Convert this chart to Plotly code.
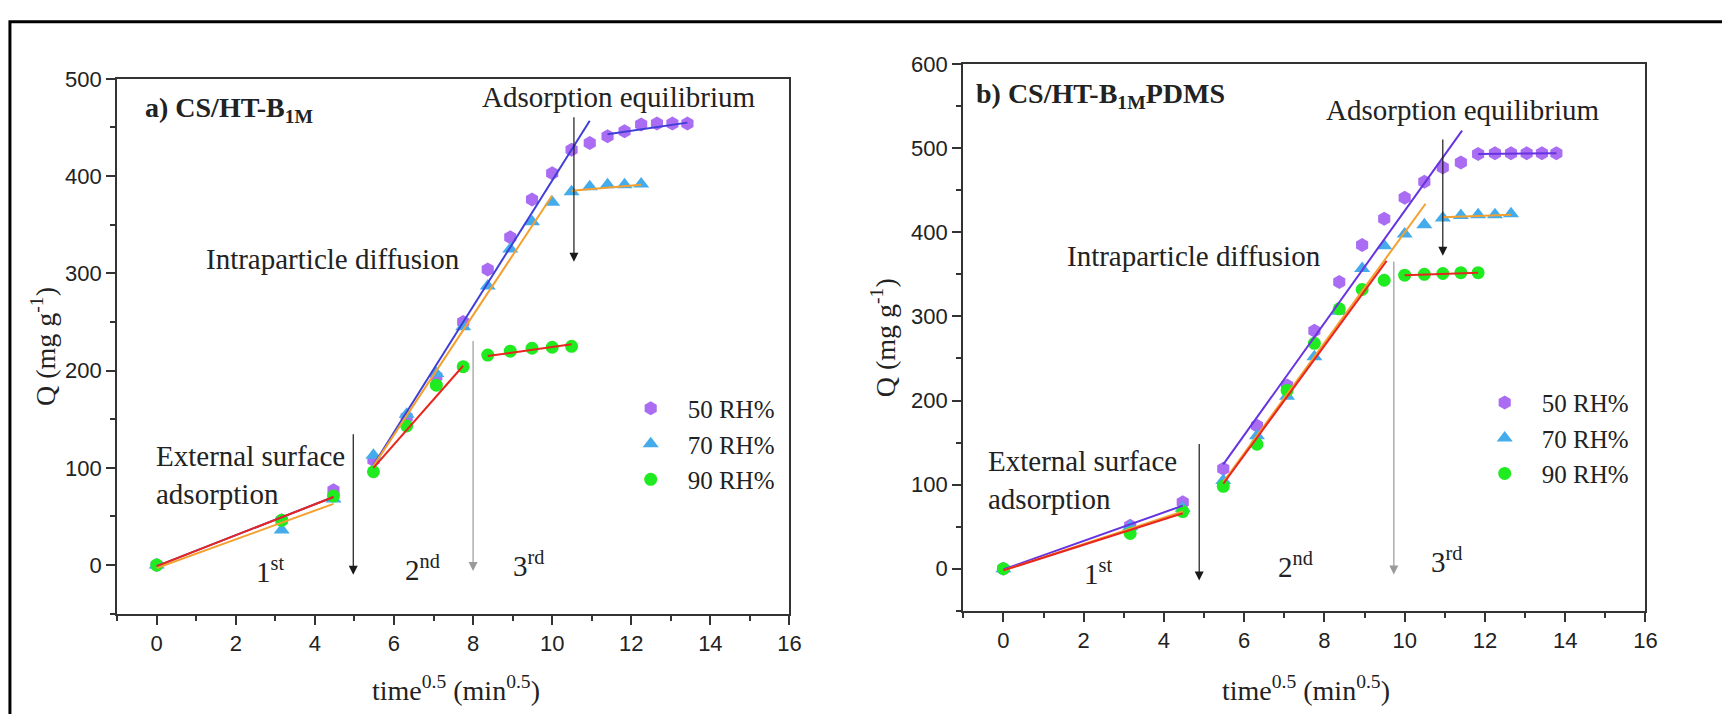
import plotly.graph_objects as go

# ---------------- data ----------------
# panel a) CS/HT-B1M
a_x = [0, 3.16, 4.47, 5.48, 6.32, 7.07, 7.75, 8.37, 8.94, 9.49, 10.0, 10.49,
       10.95, 11.40, 11.83, 12.25, 12.65, 13.04, 13.42]
a_q50 = [0, 46, 77, 108, 152, 194, 250, 304, 337, 376, 403, 427, 434, 441, 446, 453, 454, 454, 454]
a_q70 = [0, 36, 68, 113, 155, 197, 245, 287, 325, 353, 373, 384, 389, 391, 391, 392]
a_q90 = [0, 46, 71, 96, 143, 185, 204, 216, 220, 223, 224, 225]

a_fit50_x = [0, 4.47, None, 5.48, 10.95, None, 11.40, 13.42]
a_fit50_y = [-1, 70, None, 103, 457, None, 443, 455]
a_fit70_x = [0, 4.47, None, 5.48, 10.0, None, 10.49, 12.25]
a_fit70_y = [-3, 63, None, 102, 380, None, 385, 391]
a_fit90_x = [0, 4.47, None, 5.48, 7.75, None, 8.37, 10.49]
a_fit90_y = [-1, 70, None, 100, 205, None, 215, 227]

a_arrow_x = [4.97, 8.0, 10.55]
a_arrow_from = [136, 232, 462]
a_arrow_to = [-10, -6, 312]

# panel b) CS/HT-B1MPDMS
b_x = [0, 3.16, 4.47, 5.48, 6.32, 7.07, 7.75, 8.37, 8.94, 9.49, 10.0, 10.49,
       10.95, 11.40, 11.83, 12.25, 12.65, 13.04, 13.42, 13.78]
b_q50 = [0, 51, 79, 119, 170, 218, 283, 341, 385, 416, 441, 460, 477, 483, 493, 494, 494, 494, 494, 494]
b_q70 = [0, 50, 72, 105, 158, 205, 252, 306, 357, 384, 398, 409, 417, 420, 421, 421, 422]
b_q90 = [0, 42, 68, 98, 148, 212, 268, 309, 332, 343, 349, 350, 351, 352, 352]

b_fit50_x = [0, 4.47, None, 5.48, 11.43, None, 11.83, 13.78]
b_fit50_y = [-1, 75, None, 124, 521, None, 493, 494]
b_fit70_x = [0, 4.47, None, 5.48, 10.52, None, 10.95, 12.65]
b_fit70_y = [-2, 68, None, 103, 434, None, 418, 421]
b_fit90_x = [0, 4.47, None, 5.48, 9.55, None, 10.0, 11.83]
b_fit90_y = [-2, 66, None, 101, 366, None, 349, 352]

b_arrow_x = [4.88, 9.73, 10.95]
b_arrow_from = [150, 367, 512]
b_arrow_to = [-14, -7, 372]

series_names = ["50 RH%", "70 RH%", "90 RH%"]
x_ticks = [0, 2, 4, 6, 8, 10, 12, 14, 16]
a_y_ticks = [0, 100, 200, 300, 400, 500]
b_y_ticks = [0, 100, 200, 300, 400, 500, 600]

# ---------------- styles ----------------
C50, C70, C90 = "#A96CF2", "#45ACEC", "#20EA20"
L50a, L50b, L70, L90 = "#3F3FD8", "#6633E0", "#F4A030", "#E8261E"
SERIF = "Times New Roman, Liberation Serif, serif"
SANS = "Arial, Liberation Sans, sans-serif"
TXT = "#222222"
symbols = ["hexagon", "triangle-up", "circle"]
colors = [C50, C70, C90]
sizes = [14, 14, 13]

fig = go.Figure()

def add_panel(xa, ya, legend, xs, qs, fits, fitcolors):
    for i, q in enumerate(qs):
        fig.add_trace(go.Scatter(
            x=xs[:len(q)], y=q, mode="markers", name=series_names[i],
            marker=dict(symbol=symbols[i], color=colors[i], size=sizes[i], line=dict(width=0)),
            xaxis=xa, yaxis=ya, legend=legend))
    for (fx, fy), c in zip(fits, fitcolors):
        fig.add_trace(go.Scatter(
            x=fx, y=fy, mode="lines", line=dict(color=c, width=2),
            showlegend=False, xaxis=xa, yaxis=ya, hoverinfo="skip"))

add_panel("x", "y", "legend", a_x, [a_q50, a_q70, a_q90],
          [(a_fit50_x, a_fit50_y), (a_fit70_x, a_fit70_y), (a_fit90_x, a_fit90_y)],
          [L50a, L70, L90])
add_panel("x2", "y2", "legend2", b_x, [b_q50, b_q70, b_q90],
          [(b_fit50_x, b_fit50_y), (b_fit70_x, b_fit70_y), (b_fit90_x, b_fit90_y)],
          [L50b, L70, L90])

W, H = 1722, 714

def axis_common(domain, rng, tickvals, minor_dtick):
    return dict(
        domain=domain, range=rng, tickvals=tickvals,
        showline=True, linecolor="#333333", linewidth=2, mirror=True,
        ticks="outside", ticklen=9, tickwidth=2, tickcolor="#333333",
        minor=dict(dtick=minor_dtick, ticks="outside", ticklen=5, tickwidth=1.5,
                   tickcolor="#333333", tick0=0),
        showgrid=False, zeroline=False,
        tickfont=dict(family=SANS, size=22, color=TXT),
    )

fig.update_layout(
    width=W, height=H, margin=dict(l=0, r=0, t=0, b=0),
    paper_bgcolor="white", plot_bgcolor="white",
    xaxis=dict(axis_common([118 / W, 795 / W], [-1, 16], x_ticks, 1), anchor="y"),
    yaxis=dict(axis_common([1 - 612 / H, 1 - 68 / H], [-50, 500], a_y_ticks, 50), anchor="x"),
    xaxis2=dict(axis_common([970 / W, 1657 / W], [-1, 16], x_ticks, 1), anchor="y2"),
    yaxis2=dict(axis_common([1 - 609 / H, 1 - 53 / H], [-50, 600], b_y_ticks, 50), anchor="x2"),
    legend=dict(x=618 / W, y=1 - 380 / H, xanchor="left", yanchor="top",
                bgcolor="rgba(0,0,0,0)", itemwidth=64,
                font=dict(family=SERIF, size=25, color=TXT)),
    legend2=dict(x=1478 / W, y=1 - 374 / H, xanchor="left", yanchor="top",
                 bgcolor="rgba(0,0,0,0)", itemwidth=64,
                 font=dict(family=SERIF, size=25, color=TXT)),
    showlegend=True,
)

ann = []

def txt(text, x, y, xref, yref, size=29, xanchor="center", yanchor="middle", angle=0, align="center"):
    ann.append(dict(text=text, x=x, y=y, xref=xref, yref=yref, showarrow=False,
                    xanchor=xanchor, yanchor=yanchor, textangle=angle, align=align,
                    font=dict(family=SERIF, size=size, color=TXT)))

# panel a texts
txt("<b>a) CS/HT-B<sub>1M</sub></b>", -0.35, 469, "x", "y", size=28, xanchor="left")
txt("Adsorption equilibrium", 11.69, 481, "x", "y")
txt("Intraparticle diffusion", 4.46, 315, "x", "y")
txt("External surface<br>adsorption", -0.07, 93, "x", "y", xanchor="left", align="left")
txt("1<sup>st</sup>", 2.87, -5, "x", "y")
txt("2<sup>nd</sup>", 6.71, -3, "x", "y")
txt("3<sup>rd</sup>", 9.40, 1, "x", "y")
# panel b texts
txt("<b>b) CS/HT-B<sub>1M</sub>PDMS</b>", -0.73, 563, "x2", "y2", size=28, xanchor="left")
txt("Adsorption equilibrium", 11.45, 545, "x2", "y2")
txt("Intraparticle diffusion", 4.75, 372, "x2", "y2")
txt("External surface<br>adsorption", -0.43, 105, "x2", "y2", xanchor="left", align="left")
txt("1<sup>st</sup>", 2.37, -4, "x2", "y2")
txt("2<sup>nd</sup>", 7.29, 5, "x2", "y2")
txt("3<sup>rd</sup>", 11.05, 10, "x2", "y2")
# axis titles
txt("time<sup>0.5</sup> (min<sup>0.5</sup>)", 459 / W, 1 - 688 / H, "paper", "paper", size=28)
txt("time<sup>0.5</sup> (min<sup>0.5</sup>)", 1315 / W, 1 - 688 / H, "paper", "paper", size=28)
txt("Q (mg g<sup>-1</sup>)", 44 / W, 1 - 340 / H, "paper", "paper", size=28, angle=-90)
txt("Q (mg g<sup>-1</sup>)", 890 / W, 1 - 331 / H, "paper", "paper", size=28, angle=-90)

arrow_colors = ["#1a1a1a", "#9a9a9a", "#1a1a1a"]
for xr, yr, xs, y0s, y1s in [("x", "y", a_arrow_x, a_arrow_from, a_arrow_to),
                             ("x2", "y2", b_arrow_x, b_arrow_from, b_arrow_to)]:
    for xv, y0, y1, c in zip(xs, y0s, y1s, arrow_colors):
        ann.append(dict(x=xv, y=y1, ax=xv, ay=y0, xref=xr, yref=yr, axref=xr, ayref=yr,
                        text="", showarrow=True, arrowhead=2, arrowsize=1.5,
                        arrowwidth=1.2, arrowcolor=c, standoff=0))

fig.update_layout(annotations=ann)

# outer frame
fig.add_shape(type="rect", xref="paper", yref="paper",
              x0=10 / W, x1=1.02, y0=-0.02, y1=1 - 10 / H,
              line=dict(color="black", width=3), fillcolor="rgba(0,0,0,0)", layer="above")

fig.write_html("out.html")
